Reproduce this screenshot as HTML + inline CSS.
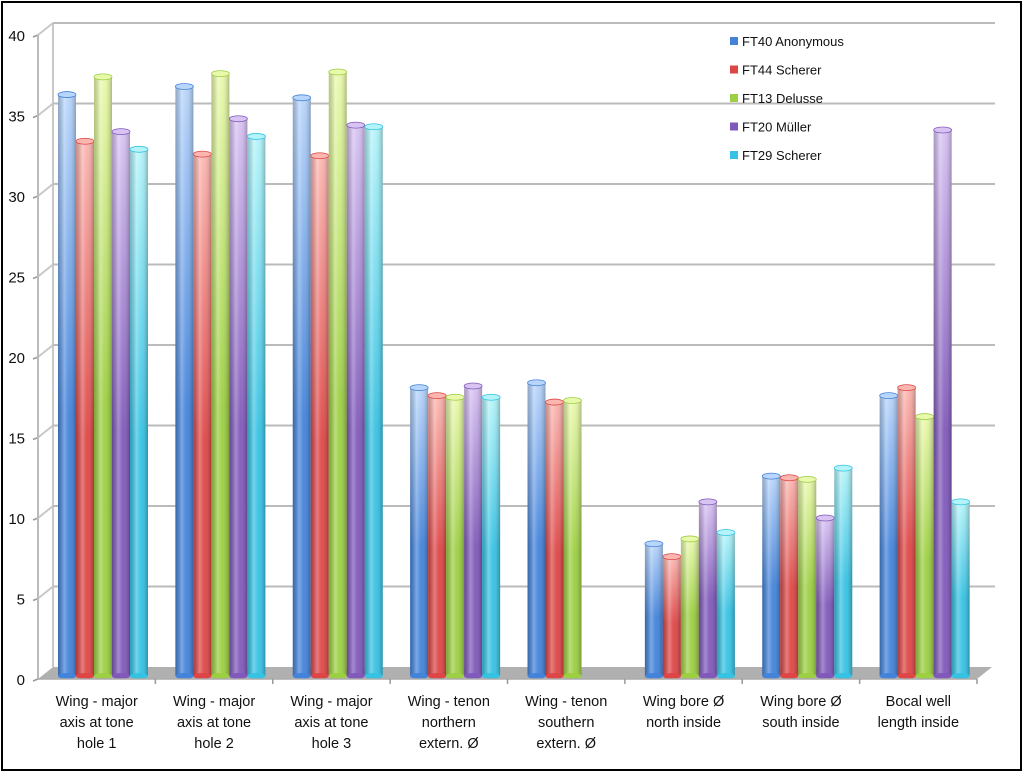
<!DOCTYPE html>
<html><head><meta charset="utf-8"><style>
body{margin:0;background:#fff;}
svg{display:block;font-family:"Liberation Sans",sans-serif;}
</style></head><body>
<svg id="c" width="1024" height="773">
<defs>
<linearGradient id="shade" x1="0" x2="1" y1="0" y2="0">
<stop offset="0" stop-color="#000" stop-opacity="0.2"/>
<stop offset="0.35" stop-color="#fff" stop-opacity="0.3"/>
<stop offset="0.6" stop-color="#fff" stop-opacity="0.05"/>
<stop offset="1" stop-color="#000" stop-opacity="0.25"/>
</linearGradient>
</defs>
<rect x="2" y="2" width="1019" height="768" fill="#fff" stroke="#000" stroke-width="2"/>
<g id="grid"></g><g id="bars"></g><g id="axes"></g><g id="legend"></g>
</svg>
<script>
const categories=[["Wing - major","axis at tone","hole 1"],["Wing - major","axis at tone","hole 2"],["Wing - major","axis at tone","hole 3"],["Wing - tenon","northern","extern. Ø"],["Wing - tenon","southern","extern. Ø"],["Wing bore Ø","north inside"],["Wing bore Ø","south inside"],["Bocal well","length inside"]];
const seriesNames=["FT40 Anonymous","FT44 Scherer","FT13 Delusse","FT20 Müller","FT29 Scherer"];
const ft40=[36.3,36.8,36.1,18.1,18.4,8.4,12.6,17.6];
const ft44=[33.4,32.6,32.5,17.6,17.2,7.6,12.5,18.1];
const ft13=[37.4,37.6,37.7,17.5,17.3,8.7,12.4,16.3];
const ft20=[34.0,34.8,34.4,18.2,null,11.0,10.0,34.1];
const ft29=[32.9,33.7,34.3,17.5,null,9.1,13.1,11.0];
const yTicks=[0,5,10,15,20,25,30,35,40];
const NS="http://www.w3.org/2000/svg";
const series=[ft40,ft44,ft13,ft20,ft29];
const light=["#b8d5fb","#fbb6b0","#e9f9ac","#d8c3f3","#b4f4f9"];
const dark=["#4383da","#de4646","#9ccf42","#8059ba","#36c2e3"];
const X0=38,X1=977,Y0=679,PX=16.1,DX=15,DY=-12;
const yS=v=>Y0-v*PX;
const cw=(X1-X0)/categories.length;
function el(t,a,p){const e=document.createElementNS(NS,t);for(const k in a)e.setAttribute(k,a[k]);p.appendChild(e);return e;}
const svg=document.getElementById('c'),defs=svg.querySelector('defs');
const G=document.getElementById('grid'),B=document.getElementById('bars'),A=document.getElementById('axes'),L=document.getElementById('legend');
dark.forEach((d,i)=>{const g=el('linearGradient',{id:'g'+i,x1:0,x2:0,y1:0,y2:1},defs);el('stop',{offset:0,'stop-color':light[i]},g);el('stop',{offset:0.55,'stop-color':d},g);el('stop',{offset:1,'stop-color':d},g);});
const fl=el('polygon',{points:`${X0},${Y0} ${X1},${Y0} ${X1+DX},${Y0+DY} ${X0+DX},${Y0+DY}`,fill:'#b0b0b0'},G);

el('line',{x1:X0+DX,y1:yS(40)+DY,x2:X0+DX,y2:Y0+DY,stroke:'#c8c8c8','stroke-width':2},G);
yTicks.forEach(t=>{const y=yS(t);
 if(t>0){const l=el('line',{x1:X0,y1:y,x2:X0+DX,y2:y+DY,stroke:'#c8c8c8','stroke-width':2},G);
 const g=el('line',{x1:X0+DX,y1:y+DY,x2:X1+DX+3,y2:y+DY,stroke:'#bbb','stroke-width':2},G);
 }
 el('line',{x1:X0-5,y1:y+2,x2:X0,y2:y,stroke:'#999','stroke-width':1.5},A);
 const tx=el('text',{x:25,y:y+6,'text-anchor':'end','font-size':15,fill:'#111'},A);tx.textContent=t;
 });
el('line',{x1:X0,y1:yS(40),x2:X0,y2:Y0,stroke:'#bbb','stroke-width':2},A);
el('line',{x1:X0,y1:Y0,x2:X1,y2:Y0,stroke:'#aaa','stroke-width':1.5},A);
categories.forEach((c,i)=>{
 el('line',{x1:X0+(i+1)*cw,y1:Y0,x2:X0+(i+1)*cw,y2:Y0+5,stroke:'#999','stroke-width':1.5},A);
 const cx=X0+(i+0.5)*cw;
 c.forEach((ln,k)=>{const t=el('text',{x:cx,y:706+k*21,'text-anchor':'middle','font-size':14.5,fill:'#111'},A);t.textContent=ln;
 });
 series.forEach((s,j)=>{const v=s[i];if(v==null)return;
  const bx=X0+i*cw+20+j*18,bw=18,top=yS(v),bot=Y0-3;
  const g=el('g',{},B);
  
  
  el('rect',{x:bx,y:top,width:bw,height:bot-top,fill:`url(#g${j})`},g);
  el('rect',{x:bx,y:top,width:bw,height:bot-top,fill:'url(#shade)'},g);
  el('ellipse',{cx:bx+bw/2,cy:bot,rx:bw/2,ry:3,fill:dark[j]},g);
  el('ellipse',{cx:bx+bw/2,cy:top,rx:bw/2,ry:3,fill:light[j],stroke:dark[j],'stroke-width':0.8},g);
 });
});
seriesNames.forEach((n,i)=>{const y=42+i*28.5;
 const g=el('g',{},L);
 
 
 el('rect',{x:730,y:y-5,width:8,height:8,fill:dark[i]},g);
 const t=el('text',{x:742,y:y+4,'font-size':13,fill:'#111'},g);t.textContent=n;});
</script>
</body></html>
